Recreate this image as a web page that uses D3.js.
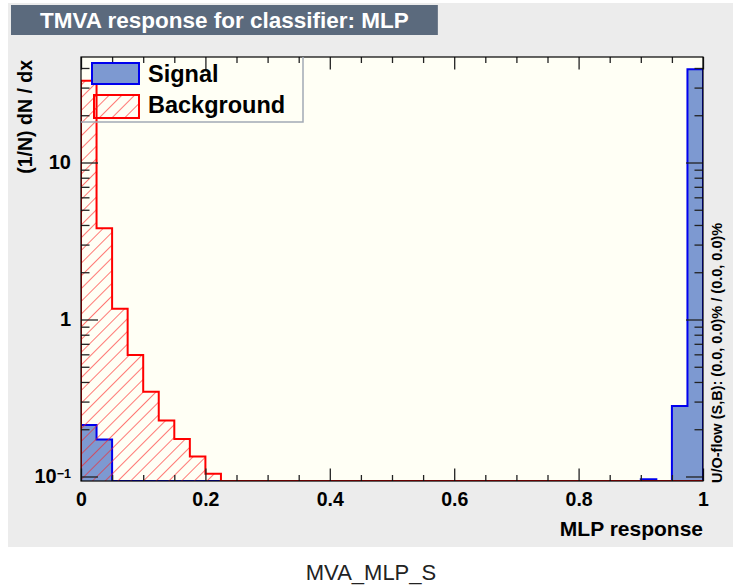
<!DOCTYPE html>
<html><head><meta charset="utf-8">
<script src="https://cdn.jsdelivr.net/npm/d3@7/dist/d3.min.js"></script>
<style>
html,body{margin:0;padding:0;background:#fff;}
svg{display:block;}
text{font-family:"Liberation Sans",Arial,Helvetica,sans-serif;}
</style></head>
<body>
<svg id="c" width="733" height="588"></svg>
<script>
// ---- data ----
const xDomain = [0, 1];
const nBins = 40;
const signal = [0.213, 0.172, 0, 0, 0, 0, 0, 0, 0, 0,
                0, 0, 0, 0, 0, 0, 0, 0, 0, 0,
                0, 0, 0, 0, 0, 0, 0, 0, 0, 0,
                0, 0, 0, 0, 0, 0, 0.096, 0, 0.281, 39.3];
const background = [33.2, 3.81, 1.17, 0.594, 0.347, 0.227, 0.173, 0.134, 0.104, 0,
                    0, 0, 0, 0, 0, 0, 0, 0, 0, 0,
                    0, 0, 0, 0, 0, 0, 0, 0, 0, 0,
                    0, 0, 0, 0, 0, 0, 0, 0, 0, 0];
const yDomain = [0.0936, 46.99];
const xMajorTicks = [0, 0.2, 0.4, 0.6, 0.8, 1];
const xTickLabels = ["0", "0.2", "0.4", "0.6", "0.8", "1"];
const yMajorTicks = [0.1, 1, 10];
const yTickLabels = ["10", "1", "10"];
const titleText = "TMVA response for classifier: MLP";
const xTitle = "MLP response";
const yTitle = "(1/N) dN / dx";
const flowText = "U/O-flow (S,B): (0.0, 0.0)% / (0.0, 0.0)%";
const legendLabels = ["Signal", "Background"];
const caption = "MVA_MLP_S";

// ---- layout ----
const L = 81, R = 703, T = 57, B = 481;
const svg = d3.select("#c");
const x = d3.scaleLinear().domain(xDomain).range([L, R]);
const y = d3.scaleLog().domain(yDomain).range([B, T]);
const binW = (xDomain[1] - xDomain[0]) / nBins;

// canvas background
svg.append("rect").attr("x", 8).attr("y", 3).attr("width", 725).attr("height", 544).attr("fill", "#ececec");

// hatch pattern
const defs = svg.append("defs");
const pat = defs.append("pattern").attr("id", "hatch").attr("patternUnits", "userSpaceOnUse")
  .attr("width", 9).attr("height", 9).attr("patternTransform", "rotate(45)");
pat.append("line").attr("x1", 0).attr("y1", -1).attr("x2", 0).attr("y2", 10)
  .attr("stroke", "#ff2020").attr("stroke-width", 1.2);
defs.append("clipPath").attr("id", "frameClip").append("rect")
  .attr("x", L).attr("y", T).attr("width", R - L).attr("height", B - T);

// frame fill
svg.append("rect").attr("x", L).attr("y", T).attr("width", R - L).attr("height", B - T).attr("fill", "#fffff5");

function histPath(vals) {
  const ymin = yDomain[0];
  const p = d3.path();
  p.moveTo(x(xDomain[0]), y(ymin));
  vals.forEach((v, i) => {
    const yy = y(Math.min(Math.max(v, ymin), yDomain[1]));
    p.lineTo(x(i * binW), yy);
    p.lineTo(x((i + 1) * binW), yy);
  });
  p.lineTo(x(xDomain[1]), y(ymin));
  return p.toString();
}

const hg = svg.append("g").attr("clip-path", "url(#frameClip)");
hg.append("path").attr("d", histPath(signal)).attr("fill", "#7d99d1").attr("stroke", "#0000ee").attr("stroke-width", 2);
hg.append("path").attr("d", histPath(background)).attr("fill", "url(#hatch)").attr("stroke", "#ff0000").attr("stroke-width", 2);

// axes (ticks inward)
const tickCol = "#222";
function styleAxis(g) {
  g.select(".domain").remove();
  g.selectAll(".tick line").attr("stroke", tickCol).attr("stroke-width", 1.3);
}
const xMinor = d3.range(0, 21).map(i => i * 0.05).filter(v => !xMajorTicks.some(m => Math.abs(m - v) < 1e-9));
// bottom
svg.append("g").attr("transform", `translate(0,${B})`)
  .call(d3.axisBottom(x).tickValues(xMinor).tickSize(-6).tickFormat(""))
  .call(styleAxis);
svg.append("g").attr("transform", `translate(0,${B})`)
  .call(d3.axisBottom(x).tickValues(xMajorTicks).tickSize(-12.5).tickPadding(11.5)
    .tickFormat((d, i) => xTickLabels[i]))
  .call(styleAxis)
  .call(g => g.selectAll("text").attr("fill", "#000").style("font-size", "19.5px").style("font-weight", "bold"));
// top
svg.append("g").attr("transform", `translate(0,${T})`)
  .call(d3.axisTop(x).tickValues(xMinor).tickSize(-6).tickFormat("")).call(styleAxis);
svg.append("g").attr("transform", `translate(0,${T})`)
  .call(d3.axisTop(x).tickValues(xMajorTicks).tickSize(-12.5).tickFormat("")).call(styleAxis);

// y minor ticks
const yMinor = [];
[0.1, 1, 10].forEach(dec => { for (let k = 2; k <= 9; k++) { const v = dec * k; if (v < yDomain[1]) yMinor.push(v); } });
svg.append("g").attr("transform", `translate(${L},0)`)
  .call(d3.axisLeft(y).tickValues(yMinor).tickSize(-8.5).tickFormat("")).call(styleAxis);
svg.append("g").attr("transform", `translate(${L},0)`)
  .call(d3.axisLeft(y).tickValues(yMajorTicks).tickSize(-17).tickPadding(10)
    .tickFormat((d, i) => yTickLabels[i]))
  .call(styleAxis)
  .call(g => {
    g.selectAll("text").attr("fill", "#000").style("font-size", "20px").style("font-weight", "bold");
    g.selectAll(".tick").filter(d => d === 0.1).select("text")
      .append("tspan").attr("dy", "-0.45em").style("font-size", "12.5px").text("\u22121");
  });
svg.append("g").attr("transform", `translate(${R},0)`)
  .call(d3.axisRight(y).tickValues(yMinor).tickSize(-8.5).tickFormat("")).call(styleAxis);
svg.append("g").attr("transform", `translate(${R},0)`)
  .call(d3.axisRight(y).tickValues(yMajorTicks).tickSize(-17).tickFormat("")).call(styleAxis);

// frame border
svg.append("rect").attr("x", L).attr("y", T).attr("width", R - L).attr("height", B - T)
  .attr("fill", "none").attr("stroke", "#000").attr("stroke-width", 1.2);

// legend
const lg = svg.append("g");
lg.append("path").attr("d", `M${L},122 H303 V${T}`).attr("fill", "none").attr("stroke", "#a3abb5").attr("stroke-width", 1.5);
lg.append("rect").attr("x", 92).attr("y", 63).attr("width", 47).attr("height", 21)
  .attr("fill", "#7d99d1").attr("stroke", "#0000ee").attr("stroke-width", 2);
lg.append("rect").attr("x", 94).attr("y", 95).attr("width", 45).attr("height", 23)
  .attr("fill", "url(#hatch)").attr("stroke", "#ff0000").attr("stroke-width", 2);
lg.selectAll("text.leg").data(legendLabels).join("text").attr("class", "leg")
  .attr("x", 148).attr("y", (d, i) => 81.5 + i * 31.5)
  .style("font-size", "23.5px").style("font-weight", "bold").attr("fill", "#000").text(d => d);

// title box
const titleBox = svg.append("rect").attr("x", 11).attr("y", 5).attr("height", 30).attr("fill", "#5b6a7d");
const tt = svg.append("text").attr("x", 40).attr("y", 28).attr("fill", "#fff")
  .style("font-size", "22.5px").style("font-weight", "bold").text(titleText);
titleBox.attr("width", tt.node().getComputedTextLength() + 58);

// axis titles
svg.append("text").attr("x", R).attr("y", 536).attr("text-anchor", "end")
  .style("font-size", "21px").style("font-weight", "bold").attr("fill", "#000").text(xTitle);
svg.append("text").attr("transform", `translate(32,${T + 3}) rotate(-90)`).attr("text-anchor", "end")
  .style("font-size", "19.5px").style("font-weight", "bold").attr("fill", "#000").text(yTitle);
svg.append("text").attr("transform", `translate(722,483) rotate(-90)`).attr("text-anchor", "start")
  .style("font-size", "14.5px").style("font-weight", "bold").attr("fill", "#000").text(flowText);

// caption
svg.append("text").attr("x", 371).attr("y", 580).attr("text-anchor", "middle")
  .style("font-size", "22px").attr("fill", "#222").text(caption);
</script>
</body></html>
